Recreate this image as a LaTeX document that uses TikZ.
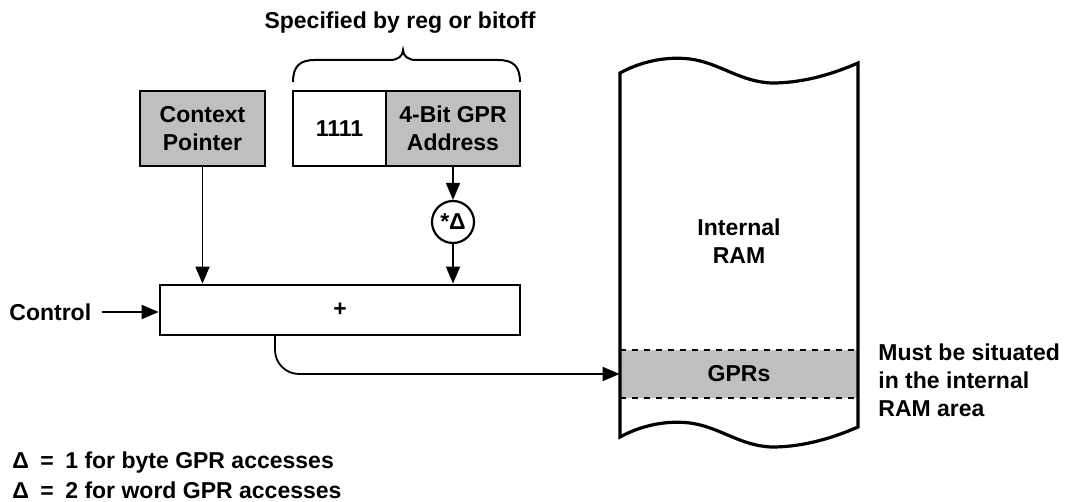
\documentclass[tikz,border=0pt]{standalone}
\usepackage{fontspec}
\setmainfont{Liberation Sans}
\usetikzlibrary{arrows.meta}
\colorlet{dotgray}{black!25!white}
\tikzstyle{box}=[rectangle, draw, line width=1.4pt, minimum height=37.5pt, inner sep=0pt, align=center]
\tikzstyle{link}=[line width=0.9pt, -{Triangle[length=8.5pt,width=7pt]}]
\tikzstyle{label}=[inner sep=0pt, align=left]

\begin{document}
\begin{tikzpicture}[x=0.5pt, y=-0.5pt, font=\fontsize{11.5}{14}\selectfont\bfseries]
			\useasboundingbox (0,0) rectangle (1079,502);

			\node[label] (title) at (400, 23) {Specified by reg or bitoff};
			\node[box, fill=dotgray, minimum width=62.5pt] (ctx) at (202.5, 128.5) {Context\\Pointer};
			\node[box, minimum width=46.5pt] (ones) at (339.5, 128.5) {1111};
			\node[box, fill=dotgray, minimum width=67pt] (gpra) at (453, 128.5) {4-Bit GPR\\Address};
			\node[circle, draw, line width=1.1pt, minimum size=21pt, inner sep=0pt] (mul) at (453, 222) {*Δ};
			\node[box, minimum width=180pt, minimum height=25pt] (adder) at (340, 310) {+};
			\node[label, anchor=west] (ctrl) at (9, 312) {Control};

			% Brace over the two fields
			\coordinate (b1) at (293, 82);
			\coordinate (b2) at (520, 82);
			\draw[line width=1pt] (b1) .. controls (293, 66) and (300, 60) .. (315, 60) -- (390, 60)
				.. controls (398, 60) and (403, 56) .. (403, 50)
				.. controls (403, 56) and (408, 60) .. (416, 60) -- (498, 60)
				.. controls (513, 60) and (520, 66) .. (b2);

			% Internal RAM
			\fill[dotgray] (620, 350) rectangle (858, 398);
			\draw[line width=1.1pt, dashed] (620, 350) -- (858, 350) (620, 398) -- (858, 398);
			\draw[line width=1.6pt] (620, 73) .. controls (640, 62) and (665, 56) .. (690, 59)
				.. controls (720, 63) and (740, 82) .. (772, 83)
				.. controls (805, 83) and (835, 73) .. (858, 63)
				-- (858, 427)
				.. controls (835, 437) and (805, 447) .. (772, 447)
				.. controls (740, 446) and (720, 427) .. (690, 423)
				.. controls (665, 420) and (640, 426) .. (620, 437) -- cycle;
			\node[label, align=center] (ram) at (739, 241) {Internal\\RAM};
			\node[inner sep=0pt, minimum width=119pt, minimum height=24pt] (gprs) at (739, 374) {GPRs};

			\node[label, anchor=north west] (note) at (878, 343) {Must be situated\\in the internal\\RAM area};
			\node[label, anchor=west] (d1) at (12, 463) {Δ\enspace=\enspace1 for byte GPR accesses};
			\node[label, anchor=west] (d2) at (12, 490) {Δ\enspace=\enspace2 for word GPR accesses};

			% Arrows
			\draw[link] (ctx.south) -- (ctx.south |- adder.north);
			\draw[link] (gpra.south) -- (mul.north);
			\draw[link] (mul.south) -- (mul.south |- adder.north);
			\draw[link] ([xshift=5pt]ctrl.east) -- (ctrl.east -| adder.west);
			\coordinate (tap) at (275, 335);
			\draw[link, rounded corners=12pt] (tap) |- (gprs.west);
		\end{tikzpicture}
\end{document}
